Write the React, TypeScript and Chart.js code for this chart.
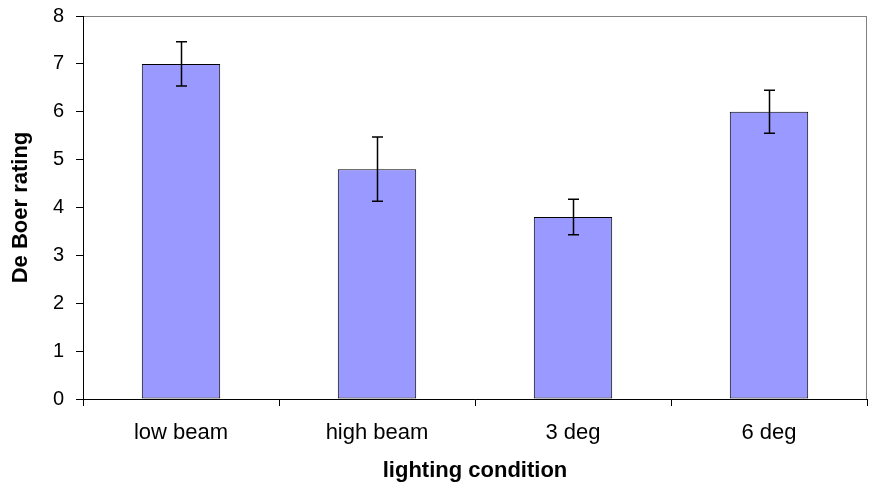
import React, { useEffect, useRef } from "react";
import { Chart, registerables } from "chart.js";

Chart.register(...registerables);

const categories = ["low beam", "high beam", "3 deg", "6 deg"];
const ratings = [7.0, 4.8, 3.8, 6.0];
const errorMargins = [0.46, 0.67, 0.37, 0.45];
const yMin = 0;
const yMax = 8;
const yStep = 1;
const xTitle = "lighting condition";
const yTitle = "De Boer rating";

const FONT = "'Liberation Sans', Arial, sans-serif";

const framePlugin = {
  id: "frame",
  beforeDraw(chart: any) {
    const { ctx, chartArea } = chart;
    ctx.save();
    ctx.strokeStyle = "#808080";
    ctx.lineWidth = 1;
    ctx.strokeRect(
      Math.round(chartArea.left) + 0.5,
      Math.round(chartArea.top) + 0.5,
      Math.round(chartArea.right - chartArea.left) - 1,
      Math.round(chartArea.bottom - chartArea.top)
    );
    ctx.restore();
  },
};

const errorBarPlugin = {
  id: "errorBars",
  afterDatasetsDraw(chart: any) {
    const { ctx } = chart;
    const meta = chart.getDatasetMeta(0);
    const yScale = chart.scales.y;
    ctx.save();
    ctx.strokeStyle = "#000";
    ctx.lineWidth = 1.5;
    meta.data.forEach((bar: any, i: number) => {
      const x = Math.round(bar.x) + 0.5;
      const v = ratings[i];
      const e = errorMargins[i];
      const yTop = yScale.getPixelForValue(v + e);
      const yBot = yScale.getPixelForValue(v - e);
      const cap = 5.5;
      ctx.beginPath();
      ctx.moveTo(x, yTop);
      ctx.lineTo(x, yBot);
      ctx.moveTo(x - cap, yTop);
      ctx.lineTo(x + cap, yTop);
      ctx.moveTo(x - cap, yBot);
      ctx.lineTo(x + cap, yBot);
      ctx.stroke();
    });
    ctx.restore();
  },
};

export default function App() {
  const ref = useRef<HTMLCanvasElement | null>(null);

  useEffect(() => {
    if (!ref.current) return;
    const chart = new Chart(ref.current, {
      type: "bar",
      data: {
        labels: categories,
        datasets: [
          {
            data: ratings,
            backgroundColor: "#9999FF",
            borderColor: "#000000",
            borderWidth: 1,
            borderSkipped: false,
            categoryPercentage: 1,
            barPercentage: 0.4,
          },
        ],
      },
      options: {
        responsive: false,
        animation: false,
        layout: { padding: { top: 16, right: 6, left: 0, bottom: 0 } },
        plugins: {
          legend: { display: false },
          tooltip: { enabled: false },
        },
        scales: {
          x: {
            grid: {
              display: true,
              drawOnChartArea: false,
              drawTicks: true,
              tickLength: 7,
              color: "#000",
              offset: true,
            },
            border: { display: true, color: "#000", width: 1 },
            ticks: {
              color: "#000",
              padding: 14,
              font: { family: FONT, size: 22 },
            },
            title: {
              display: true,
              text: xTitle,
              color: "#000",
              font: { family: FONT, size: 22, weight: "bold" },
              padding: { top: 0, bottom: 13 },
            },
            afterFit(scale: any) {
              scale.height = 98;
              scale.paddingLeft = 0;
              scale.paddingRight = 0;
            },
          },
          y: {
            min: yMin,
            max: yMax,
            ticks: {
              stepSize: yStep,
              color: "#000",
              padding: 12,
              font: { family: FONT, size: 20 },
            },
            grid: {
              display: true,
              drawOnChartArea: false,
              drawTicks: true,
              tickLength: 7,
              color: "#000",
            },
            border: { display: true, color: "#000", width: 1 },
            title: {
              display: true,
              text: yTitle,
              color: "#000",
              font: { family: FONT, size: 22, weight: "bold" },
              padding: { top: 8, bottom: 0 },
            },
            afterFit(scale: any) {
              scale.width = 83;
              scale.paddingTop = 0;
              scale.paddingBottom = 0;
            },
          },
        },
      },
      plugins: [framePlugin, errorBarPlugin],
    });
    return () => chart.destroy();
  }, []);

  return (
    <div style={{ position: "fixed", left: 0, top: 0, width: 873, height: 497, background: "#fff" }}>
      <canvas ref={ref} width={873} height={497} style={{ display: "block" }} />
    </div>
  );
}
